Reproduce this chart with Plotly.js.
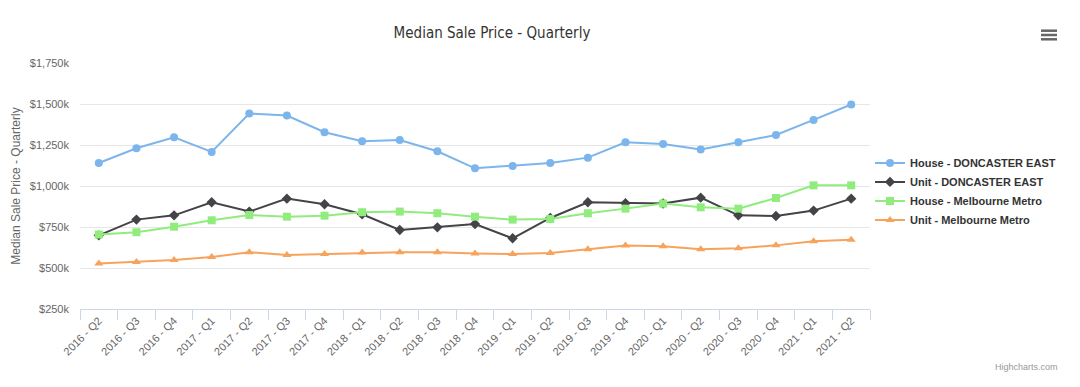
<!DOCTYPE html>
<html>
<head>
<meta charset="utf-8">
<script src="https://cdn.plot.ly/plotly-3.0.1.min.js"></script>
<style>html,body{margin:0;padding:0;background:#fff;}#chart{width:1080px;height:387px;}</style>
</head>
<body>
<div id="chart"></div>
<script>
const quarters = ["2016 - Q2","2016 - Q3","2016 - Q4","2017 - Q1","2017 - Q2","2017 - Q3","2017 - Q4","2018 - Q1","2018 - Q2","2018 - Q3","2018 - Q4","2019 - Q1","2019 - Q2","2019 - Q3","2019 - Q4","2020 - Q1","2020 - Q2","2020 - Q3","2020 - Q4","2021 - Q1","2021 - Q2"];
const houseDoncaster = [1140,1230,1297,1208,1442,1430,1328,1273,1281,1212,1108,1122,1140,1173,1267,1256,1222,1267,1311,1403,1497];
const unitDoncaster = [699,795,821,901,844,923,889,828,732,748,768,681,805,901,895,893,929,821,817,850,923];
const houseMelbourne = [704,718,752,791,823,813,819,840,844,834,813,795,799,834,862,893,870,862,927,1004,1004];
const unitMelbourne = [527,537,549,567,596,579,585,594,596,596,588,585,592,614,637,632,614,620,638,663,673];
const seriesNames = ["House - DONCASTER EAST","Unit - DONCASTER EAST","House - Melbourne Metro","Unit - Melbourne Metro"];
const yTicks = [250,500,750,1000,1250,1500,1750];
const yTickLabels = ["$250k","$500k","$750k","$1,000k","$1,250k","$1,500k","$1,750k"];

const colors = ["#7cb5ec","#434348","#90ed7d","#f7a35c"];
const symbols = ["circle","diamond","square","triangle-up"];
const sizes = [8,8,8,8];
const data = [houseDoncaster, unitDoncaster, houseMelbourne, unitMelbourne].map((ys,i)=>({
  type:"scatter", mode:"lines+markers", name: seriesNames[i],
  x: quarters, y: ys,
  line:{color:colors[i], width:2},
  marker:{color:colors[i], symbol:symbols[i], size:sizes[i]},
  hovertemplate: "%{x}<br>$%{y:,.0f}k<extra>"+seriesNames[i]+"</extra>"
}));

const font = "'Liberation Sans', Arial, sans-serif";
const layout = {
  width:1080, height:387,
  margin:{l:80, r:210, t:63, b:78},
  paper_bgcolor:"#fff", plot_bgcolor:"#fff",
  font:{family:font, color:"#666", size:11},
  title:{text:"Median Sale Price - Quarterly", x:492/1080, xref:"container", xanchor:"center", y:0.93, yref:"container",
         font:{family:"'Liberation Sans Narrow', 'DejaVu Sans Condensed', sans-serif", size:15, color:"#333"}},
  showlegend:true,
  legend:{x:1.0, xanchor:"left", y:0.478, yanchor:"middle", font:{family:font, size:11, color:"#333", weight:"bold"},
          tracegroupgap:0, itemwidth:30, bgcolor:"rgba(0,0,0,0)"},
  xaxis:{type:"category", range:[-0.5, quarters.length-0.5], tickangle:-45,
         showgrid:false, showline:true, linecolor:"#ccd6eb", linewidth:1,
         ticks:"outside", tickson:"boundaries", ticklen:10, tickcolor:"#ccd6eb",
         tickfont:{size:11, color:"#666"}, zeroline:false, fixedrange:true},
  yaxis:{range:[250,1750], tickmode:"array", tickvals:yTicks, ticktext:yTickLabels,
         showgrid:true, gridcolor:"#e6e6e6", gridwidth:1, zeroline:false, showline:false,
         ticks:"", ticklabelstandoff:10,
         title:{text:"Median Sale Price - Quarterly", font:{size:12, color:"#666"}, standoff:6},
         tickfont:{size:11, color:"#666"}, fixedrange:true},
  shapes:[0,1,2].map(k=>({type:"line", xref:"paper", yref:"paper",
    x0:(1041-80)/790, x1:(1057-80)/790, y0:(309-(30.7+k*4.3))/246, y1:(309-(30.7+k*4.3))/246,
    line:{color:"#666", width:2.5}})),
  annotations:[{text:"Highcharts.com", xref:"paper", yref:"paper", x:(1060-80)/790, y:(309-367)/246,
    xanchor:"right", yanchor:"middle", showarrow:false, font:{size:9, color:"#999"}}]
};
Plotly.newPlot("chart", data, layout, {displayModeBar:false, responsive:false});
</script>
</body>
</html>
